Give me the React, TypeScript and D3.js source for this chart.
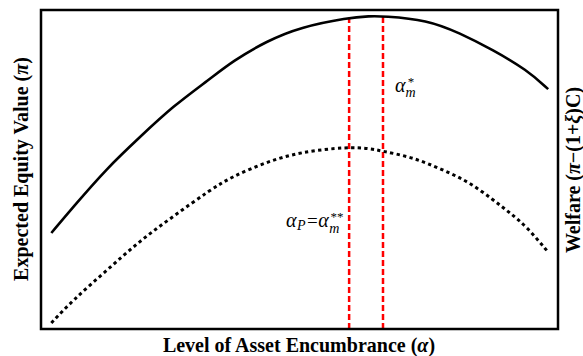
import React from "react";
import * as d3 from "d3";

// Level of asset encumbrance (alpha, 0-100 scale) for the solid curve
const equityAlpha = [2, 6.2, 12.8, 19.15, 25.5, 32.7, 37.1, 43.7, 50.1, 59.4, 63.6, 66.15, 74.7, 81.0, 87.4, 94.0, 98.1];
// Expected equity value (solid)
const equityValues = [30.1, 38.2, 50.5, 60.2, 69.8, 78.4, 84.0, 90.3, 94.6, 97.6, 98.1, 98.1, 96.9, 92.8, 87.5, 81.2, 75.2];
// alpha values for the dotted curve
const welfareAlpha = [2, 6.2, 12.8, 19.15, 25.5, 32.7, 37.1, 43.7, 50.1, 59.4, 63.6, 66.15, 70.8, 74.7, 79.1, 83.0, 87.4, 90.7, 94.0, 98.1];
// Welfare (dotted)
const welfareValues = [1.9, 9.1, 18.5, 27.7, 35.2, 43.6, 47.9, 52.4, 55.5, 57.1, 56.6, 55.7, 54.2, 52.0, 48.9, 45.8, 40.6, 36.4, 32.0, 24.1];
// Reference lines
const refAlphas = [59.6, 66.15];

const W = 583;
const H = 356;
const left = 41, right = 558, top = 10, bottom = 329;

export default function App() {
  const x = d3.scaleLinear().domain([0, 100]).range([left, right]);
  const y = d3.scaleLinear().domain([0, 100]).range([bottom, top]);
  const mkLine = (xs: number[]) =>
    d3
      .line<number>()
      .x((_, i) => x(xs[i]))
      .y((d) => y(d))
      .curve(d3.curveBasis);

  const interp = (a: number) => {
    const i = d3.bisectLeft(equityAlpha, a);
    const x0 = equityAlpha[i - 1], x1 = equityAlpha[i];
    const t = (a - x0) / (x1 - x0);
    return equityValues[i - 1] + t * (equityValues[i] - equityValues[i - 1]);
  };

  const font = "Liberation Serif, Times New Roman, Times, serif";

  return (
    <svg width={W} height={H} style={{ position: "absolute", left: 0, top: 0, fontFamily: font }}>
      <rect x={0} y={0} width={W} height={H} fill="#fff" />
      {refAlphas.map((a, i) => (
        <line
          key={i}
          x1={x(a)}
          x2={x(a)}
          y1={y(0)}
          y2={y(interp(a))}
          stroke="#ff0000"
          strokeWidth={2.5}
          strokeDasharray="6,3"
        />
      ))}
      <path d={mkLine(equityAlpha)(equityValues) || ""} fill="none" stroke="#000" strokeWidth={2.6} />
      <path d={mkLine(welfareAlpha)(welfareValues) || ""} fill="none" stroke="#000" strokeWidth={3} strokeDasharray="3.3,3.3" />
      <rect x={left} y={top} width={right - left} height={bottom - top} fill="none" stroke="#000" strokeWidth={2.5} />

      {/* annotations */}
      <text x={395} y={92} fontSize={20} fontStyle="italic" fill="#000">
        α<tspan dy={5} fontSize={14}>m</tspan>
        <tspan dx={-8} dy={-11} fontSize={13} fontStyle="normal">*</tspan>
      </text>

      <text x={286} y={227} fontSize={20} fontStyle="italic" fill="#000">
        α<tspan dy={3} dx={0.5} fontSize={14}>P</tspan>
        <tspan dx={1.5} dy={-3} fontSize={19} fontStyle="normal">=</tspan>
        <tspan dx={0.5}>α</tspan>
        <tspan dx={0.5} dy={6} fontSize={14}>m</tspan>
        <tspan dx={-9} dy={-12} fontSize={13} fontStyle="normal">**</tspan>
      </text>

      {/* axis titles */}
      <text x={299} y={352} fontSize={20} fontWeight="bold" textAnchor="middle" fill="#000">
        Level of Asset Encumbrance (<tspan fontStyle="italic">α</tspan>)
      </text>
      <text transform="translate(28,169) rotate(-90)" fontSize={20} fontWeight="bold" textAnchor="middle" fill="#000">
        Expected Equity Value (<tspan fontStyle="italic">π</tspan>)
      </text>
      <text transform="translate(580,170) rotate(-90)" fontSize={20} fontWeight="bold" textAnchor="middle" fill="#000">
        Welfare (<tspan fontStyle="italic">π</tspan>−(1+<tspan fontStyle="italic">ξ</tspan>)C)
      </text>
    </svg>
  );
}
